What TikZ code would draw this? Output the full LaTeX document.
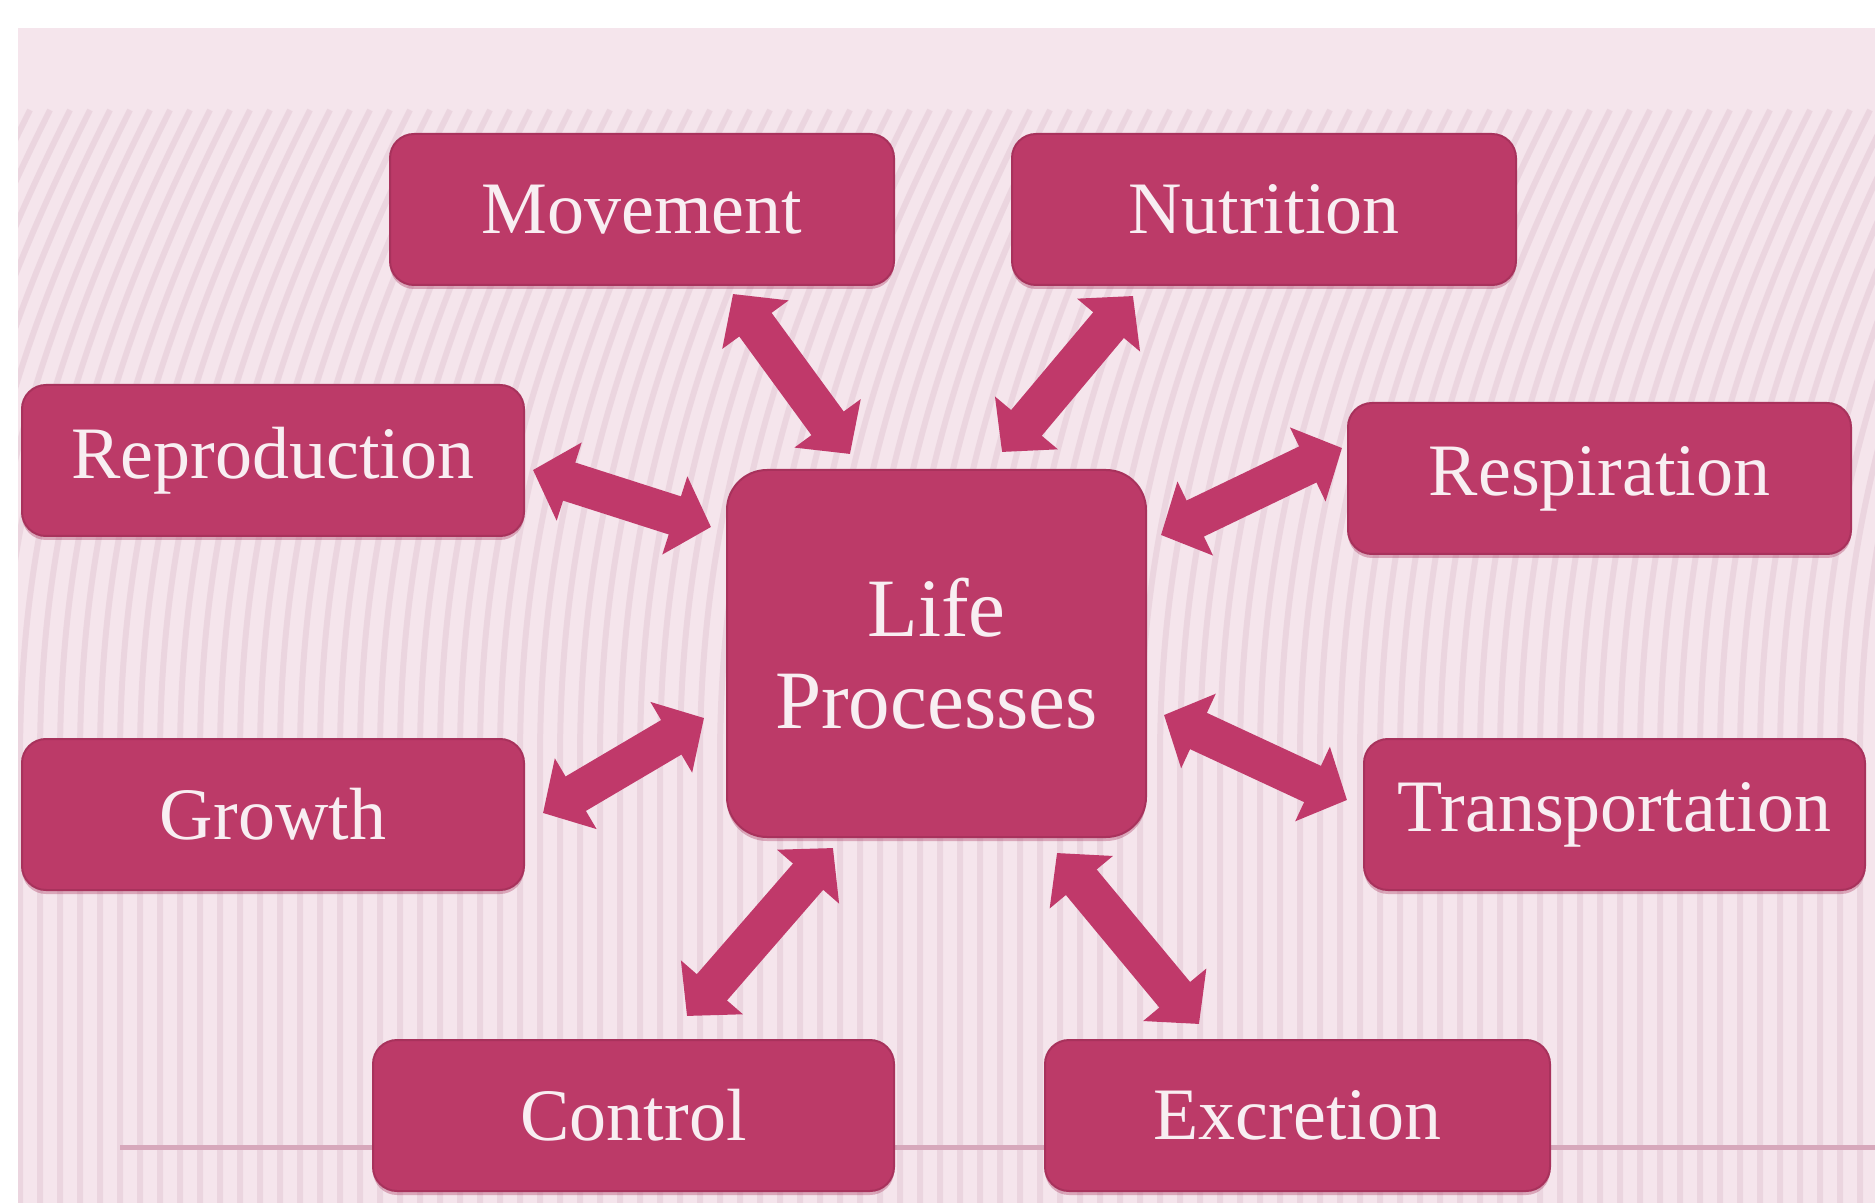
\documentclass[tikz,border=0pt]{standalone}
\usepackage{fontspec}
\setmainfont{Liberation Serif}
\usetikzlibrary{arrows.meta,calc,shadows}
\definecolor{bgpink}{HTML}{F5E5EC}
\definecolor{stripec}{HTML}{E7CFDA}
\definecolor{boxc}{HTML}{BC3A68}
\definecolor{boxedge}{HTML}{A8325C}
\definecolor{arrowc}{HTML}{C0396A}
\definecolor{txtc}{HTML}{F8EEF2}
\definecolor{rulec}{HTML}{D7A8BB}
\tikzset{
  procbox/.style={rounded corners=12pt, fill=boxc, draw=boxedge, line width=1pt,
    text=txtc, inner sep=0pt, align=center,
    font=\fontsize{37}{44}\selectfont,
    drop shadow={shadow xshift=0pt, shadow yshift=-2pt, opacity=.35, fill=boxedge}},
  lifebox/.style={procbox, rounded corners=20pt, font=\fontsize{41.5}{46}\selectfont},
  dblarrow/.style={draw=arrowc, line width=20pt,
    {Triangle[length=19pt,width=40pt]}-{Triangle[length=19pt,width=40pt]}},
  stripe/.style={draw=stripec, line width=3pt, opacity=.7}
}
\begin{document}
\begin{tikzpicture}[x=0.5pt,y=-0.5pt]
\useasboundingbox (0,0) rectangle (1875,1203);
\fill[white] (0,0) rectangle (1875,1203);
\begin{scope}
  \clip (18,28) rectangle (1875,1203);
  \fill[bgpink] (18,28) rectangle (1875,1203);
  \foreach \x in {-320,-300,...,1900} {
    \draw[stripe] (\x,1210) -- (\x,760) .. controls (\x,520) and (\x+60,330) .. (\x+170,110);
  }
  \draw[rulec, line width=2.5pt] (120,1147) -- (1875,1147);
\end{scope}

\node[procbox, minimum width=252pt, minimum height=75.5pt] (mov) at (642,209.5) {Movement};
\node[procbox, minimum width=252pt, minimum height=75.5pt] (nut) at (1264,209.5) {Nutrition};
\node[procbox, minimum width=251pt, minimum height=75.5pt] (rep) at (273,460.5) {Reproduction};
\node[procbox, minimum width=251.5pt, minimum height=75.5pt] (res) at (1599.5,478.5) {Respiration};
\node[lifebox, minimum width=209.5pt, minimum height=183.5pt] (life) at (936.5,653.5) {Life\\Processes};
\node[procbox, minimum width=251pt, minimum height=75.5pt] (gro) at (273,814.5) {Growth};
\node[procbox, minimum width=250.5pt, minimum height=75.5pt] (tra) at (1614.5,814.5) {Transportation};
\node[procbox, minimum width=260.5pt, minimum height=75.5pt] (con) at (633.5,1115.5) {Control};
\node[procbox, minimum width=252.5pt, minimum height=75.5pt] (exc) at (1297.5,1115.5) {Excretion};

\draw[dblarrow] ($(mov.south)+(91,8)$) -- ($(life.north)+(-86.5,-15)$);
\draw[dblarrow] ($(nut.south)+(-131,10)$) -- ($(life.north)+(65.5,-17)$);
\draw[dblarrow] ($(rep.east)+(8,9.5)$) -- ($(life.west)+(-15,-126.5)$);
\draw[dblarrow] ($(life.east)+(14,-118.5)$) -- ($(res.west)+(-5,-30.5)$);
\draw[dblarrow] ($(gro.east)+(18,-1.5)$) -- ($(life.west)+(-22,64.5)$);
\draw[dblarrow] ($(life.east)+(17,61.5)$) -- ($(tra.west)+(-16,-14.5)$);
\draw[dblarrow] ($(life.south)+(-103.5,10)$) -- ($(con.north)+(53.5,-23)$);
\draw[dblarrow] ($(life.south)+(120.5,15)$) -- ($(exc.north)+(-98.5,-15)$);
\end{tikzpicture}
\end{document}
